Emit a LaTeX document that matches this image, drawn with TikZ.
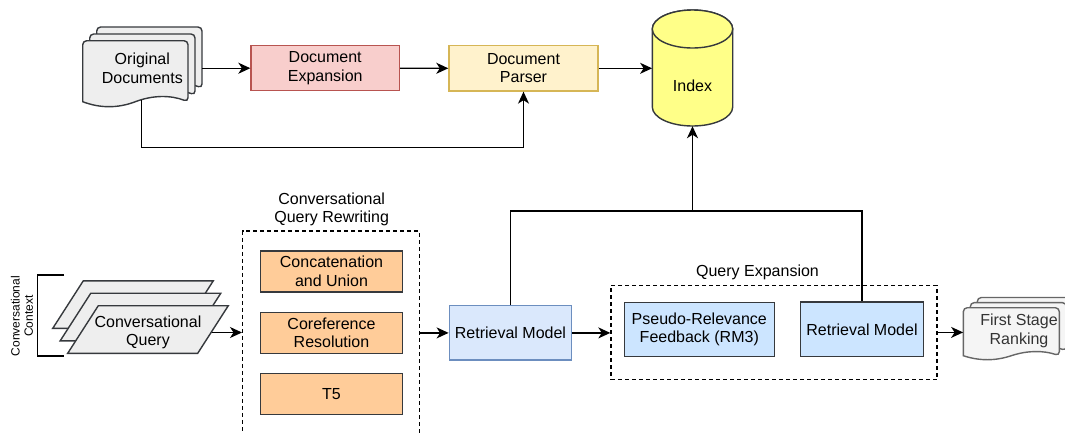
\documentclass[tikz,border=0pt]{standalone}
\usepackage{fontspec}
\setmainfont{Liberation Sans}
\usetikzlibrary{arrows.meta}

\definecolor{strokedark}{HTML}{36393D}
\definecolor{docfill}{HTML}{EEEEEE}
\definecolor{expfill}{HTML}{F8CECC}
\definecolor{expline}{HTML}{B85450}
\definecolor{parsefill}{HTML}{FFF2CC}
\definecolor{parseline}{HTML}{D6B656}
\definecolor{idxfill}{HTML}{FFFF88}
\definecolor{orangefill}{HTML}{FFCC99}
\definecolor{rmfill}{HTML}{DAE8FC}
\definecolor{rmline}{HTML}{6C8EBF}
\definecolor{qefill}{HTML}{CCE5FF}
\definecolor{rankfill}{HTML}{F5F5F5}
\definecolor{rankline}{HTML}{666666}
\definecolor{ranktext}{HTML}{333333}

% one sheet with a wavy lower edge: style, x, y, width, height, wave depth
\newcommand\docsheet[6]{%
  \path[#1] (#2,#3+#5) [rounded corners=4pt] -- (#2,#3) -- (#2+#4,#3)
    -- (#2+#4,#3+#5) [sharp corners]
    .. controls (#2+#4*5/6,#3+#5-#6*2/3) and (#2+#4*2/3,#3+#5-#6*2/3) .. (#2+#4/2,#3+#5)
    .. controls (#2+#4/3,#3+#5+#6*2/3) and (#2+#4/6,#3+#5+#6*2/3) .. (#2,#3+#5) -- cycle;}

% one slanted query card, given by its upper left corner
\newcommand\querycard[2]{%
  \path[card] (#1,#2) -- (#1+130,#2) -- (#1+99.4,#2+47.6) -- (#1-30.6,#2+47.6) -- cycle;}

\tikzset{
  base/.style={line width=1.4pt},
  txt/.style={font=\fontsize{16}{18.5}\selectfont, align=center, inner sep=0pt},
  box/.style={base, txt, draw=strokedark},
  sheet/.style={base, fill=docfill, draw=strokedark},
  ranksheet/.style={base, fill=rankfill, draw=rankline},
  card/.style={base, fill=docfill, draw=strokedark},
  group/.style={base, draw=black, dash pattern=on 4pt off 3pt, inner sep=0pt},
  arr/.style={base, -{Stealth[length=12pt,width=11pt,inset=3.5pt]}},
  wire/.style={base},
}

\begin{document}
\begin{tikzpicture}[x=1pt, y=-1pt]
\useasboundingbox (0,0) rectangle (1065,432);
\clip (0,0) rectangle (1065,432);

% ---- document side ----
\docsheet{sheet}{96.7}{27}{105.3}{61}{10}
\docsheet{sheet}{89.7}{34}{105.3}{61}{10}
\docsheet{sheet}{82.7}{40.7}{105.3}{61}{10}
\node[txt, minimum width=119.3pt, minimum height=80pt] (docs) at (142.3,68.5) {Original\\Documents};
\coordinate (docsbase) at (141.7,99.5);

\node[box, fill=expfill, draw=expline, minimum width=148.3pt, minimum height=45pt] (exp) at (325.2,68.2) {Document\\Expansion};
\node[box, fill=parsefill, draw=parseline, minimum width=149pt, minimum height=45.3pt] (parser) at (523.5,68.3) {Document\\Parser};

% index store
\path[base, fill=idxfill, draw=strokedark]
  (652.3,29) -- (652.3,107)
  arc[start angle=180, end angle=0, x radius=40.2, y radius=19]
  -- (732.7,29)
  arc[start angle=0, end angle=-180, x radius=40.2, y radius=19] -- cycle;
\path[base, fill=idxfill, draw=strokedark] (692.5,29) ellipse[x radius=40.2, y radius=19];
\node[inner sep=0pt, minimum width=80.4pt, minimum height=116pt] (index) at (692.5,68) {};
\node[txt] (idxlabel) at (692.5,86) {Index};

% ---- query side ----
\draw[base] (64,275) -- (37.3,275) -- (37.3,356) -- (64,356);
\node[txt, rotate=90, font=\fontsize{12}{13.3}\selectfont] (ctx) at (22,316) {Conversational\\Context};

\querycard{83.3}{280.8}
\querycard{90.8}{293.2}
\querycard{98.3}{305.7}
\node[txt, minimum width=128pt, minimum height=40pt] (cq) at (148,332.5) {Conversational\\Query};

\node[group, minimum width=176.6pt, minimum height=214pt] (cqr) at (331,338) {};
\node[txt] (cqrlabel) at (331.7,209.5) {Conversational\\Query Rewriting};
\node[box, fill=orangefill, minimum width=142.4pt, minimum height=41pt] (cat) at (331.5,271.5) {Concatenation\\and Union};
\node[box, fill=orangefill, minimum width=142.4pt, minimum height=41pt] (coref) at (331.5,332.8) {Coreference\\Resolution};
\node[box, fill=orangefill, minimum width=142.4pt, minimum height=41pt] (tfive) at (331.5,393.8) {T5};

\node[box, fill=rmfill, draw=rmline, minimum width=122.4pt, minimum height=54.3pt] (rm1) at (510.5,332.9) {Retrieval Model};

\node[group, minimum width=326pt, minimum height=94.2pt] (qe) at (774,332.4) {};
\node[txt] (qelabel) at (757.5,272.7) {Query Expansion};
\node[box, fill=qefill, minimum width=150pt, minimum height=54.4pt] (prf) at (699.3,329.5) {Pseudo-Relevance\\Feedback (RM3)};
\node[box, fill=qefill, minimum width=122.6pt, minimum height=54.7pt] (rm2) at (862,329.4) {Retrieval Model};

\docsheet{ranksheet}{977.3}{297.5}{96}{48}{8}
\docsheet{ranksheet}{970.3}{302.6}{96}{48}{8}
\docsheet{ranksheet}{963.3}{307.7}{96}{48}{8}
\node[txt, text=ranktext, minimum width=111.4pt, minimum height=50pt] (fsr) at (1019,331) {First Stage\\Ranking};

% ---- connectors ----
\draw[arr] (exp.west -| docs.east) -- (exp.west);
\draw[arr] (exp.east) -- (parser.west);
\draw[arr] (parser.east) -- (parser.east -| index.west);
\draw[arr] (docsbase) -- ++(0,48.2) -| (parser.south);

\draw[arr] (cq.east) -- (cq.east -| cqr.west);
\draw[arr] (rm1.west -| cqr.east) -- (rm1.west);
\draw[arr] (rm1.east) -- (rm1.east -| qe.west);
\draw[arr] (qe.east) -- (qe.east -| fsr.west);

\coordinate (jn) at (692.5,211);
\draw[wire] (rm1.north) |- (jn) -| (rm2.north);
\draw[arr] (jn) -- (index.south);
\end{tikzpicture}
\end{document}
